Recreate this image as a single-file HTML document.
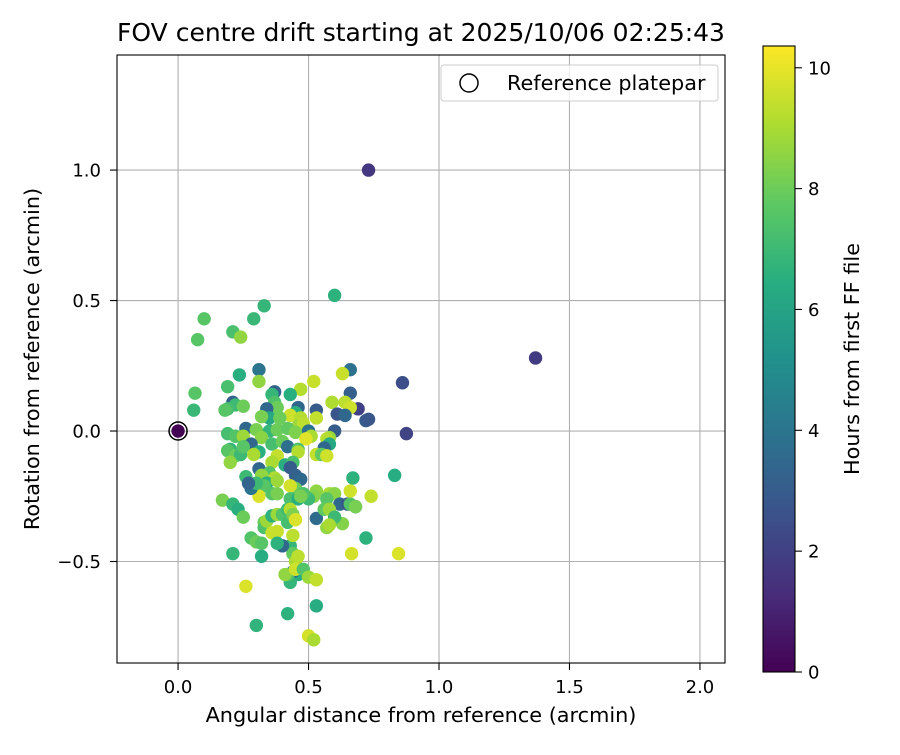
<!DOCTYPE html>
<html><head><meta charset="utf-8"><style>
body{margin:0;background:#fff;font-family:"Liberation Sans","DejaVu Sans",sans-serif}
svg text{font-family:"DejaVu Sans","Liberation Sans",sans-serif}
</style></head><body>
<svg id="chart" width="900" height="750" xmlns="http://www.w3.org/2000/svg">
<defs><linearGradient id="vir" x1="0" y1="1" x2="0" y2="0">
<stop offset="0" stop-color="#440154"/><stop offset="0.125" stop-color="#472d7b"/><stop offset="0.25" stop-color="#3b528b"/><stop offset="0.375" stop-color="#2c728e"/><stop offset="0.5" stop-color="#21918c"/><stop offset="0.625" stop-color="#28ae80"/><stop offset="0.75" stop-color="#5ec962"/><stop offset="0.875" stop-color="#addc30"/><stop offset="1" stop-color="#fde725"/>
</linearGradient></defs>
<rect width="900" height="750" fill="#fff"/>
<g id="grid"></g><g id="pts"></g><g id="axes"></g>
</svg>
<script>
const xs=[0.73,1.37,0.60,0.33,0.10,0.29,0.21,0.075,0.24,0.065,0.06,0.235,0.31,0.19,0.66,0.63,0.86,0.69,0.72,0.73,0.875,0.52,0.47,0.37,0.36,0.43,0.31,0.66,0.64,0.59,0.66,0.53,0.61,0.64,0.21,0.22,0.25,0.19,0.18,0.37,0.38,0.34,0.35,0.32,0.46,0.45,0.43,0.47,0.39,0.53,0.46,0.48,0.26,0.30,0.35,0.38,0.42,0.45,0.50,0.51,0.49,0.60,0.58,0.57,0.58,0.56,0.19,0.22,0.25,0.32,0.28,0.36,0.40,0.42,0.46,0.46,0.20,0.19,0.22,0.24,0.20,0.25,0.31,0.29,0.38,0.41,0.44,0.43,0.36,0.31,0.35,0.32,0.37,0.26,0.34,0.38,0.45,0.47,0.53,0.55,0.57,0.58,0.60,0.62,0.65,0.68,0.66,0.67,0.66,0.74,0.83,0.72,0.845,0.665,0.63,0.68,0.53,0.52,0.50,0.45,0.43,0.48,0.53,0.57,0.56,0.58,0.60,0.57,0.58,0.17,0.21,0.23,0.25,0.21,0.26,0.30,0.42,0.28,0.30,0.32,0.32,0.29,0.31,0.33,0.31,0.36,0.38,0.33,0.33,0.34,0.36,0.36,0.38,0.38,0.40,0.42,0.42,0.43,0.44,0.43,0.46,0.47,0.43,0.44,0.45,0.44,0.45,0.46,0.46,0.44,0.43,0.42,0.41,0.40,0.45,0.48,0.50,0.53,0.53,0.50,0.52,0.38,0.28,0.30,0.27];
const ys=[1.00,0.28,0.52,0.48,0.43,0.43,0.38,0.35,0.36,0.145,0.08,0.215,0.235,0.17,0.235,0.22,0.185,0.085,0.04,0.045,-0.01,0.19,0.16,0.15,0.14,0.14,0.19,0.145,0.11,0.11,0.09,0.08,0.065,0.06,0.11,0.10,0.095,0.085,0.08,0.11,0.09,0.085,0.05,0.055,0.09,0.07,0.06,0.05,0.05,0.05,0.02,0.03,0.01,0.005,0.0,0.005,0.01,-0.005,0.0,-0.02,-0.03,0.0,-0.025,-0.03,-0.05,-0.065,-0.01,-0.02,-0.02,-0.025,-0.05,-0.05,-0.04,-0.06,-0.07,-0.08,-0.07,-0.075,-0.095,-0.09,-0.12,-0.06,-0.08,-0.09,-0.095,-0.13,-0.12,-0.14,-0.12,-0.145,-0.16,-0.17,-0.18,-0.175,-0.20,-0.19,-0.17,-0.185,-0.09,-0.09,-0.095,-0.24,-0.24,-0.28,-0.28,-0.29,-0.28,-0.18,-0.23,-0.25,-0.17,-0.41,-0.47,-0.47,-0.355,-0.29,-0.23,-0.25,-0.26,-0.22,-0.21,-0.24,-0.335,-0.26,-0.30,-0.30,-0.33,-0.37,-0.36,-0.265,-0.28,-0.30,-0.33,-0.47,-0.595,-0.745,-0.70,-0.41,-0.425,-0.43,-0.48,-0.22,-0.21,-0.21,-0.25,-0.24,-0.24,-0.35,-0.37,-0.345,-0.39,-0.325,-0.32,-0.385,-0.32,-0.30,-0.35,-0.44,-0.40,-0.26,-0.26,-0.25,-0.30,-0.32,-0.34,-0.47,-0.50,-0.48,-0.55,-0.54,-0.58,-0.55,-0.55,-0.44,-0.53,-0.53,-0.56,-0.57,-0.67,-0.785,-0.80,-0.43,-0.22,-0.2,-0.20];
const hours=[1.6,1.8,6.6,6.8,7.6,6.9,7.3,7.6,8.6,7.6,6.9,6.5,4.0,7.3,3.9,9.5,2.5,2.0,3.0,2.8,2.1,9.5,9.2,3.2,6.8,6.5,8.6,3.1,9.3,9.1,9.6,3.0,2.7,3.5,3.2,7.0,8.0,7.2,7.6,7.4,8.0,3.5,6.2,8.2,3.5,6.5,9.6,9.2,8.0,9.4,8.8,9.3,3.5,8.2,6.8,8.0,7.8,8.3,3.9,9.0,9.9,3.0,8.7,9.2,6.2,3.5,7.2,7.5,8.8,8.5,3.4,7.2,8.0,3.8,7.4,9.2,6.8,7.6,8.0,7.0,8.6,7.6,6.5,9.0,9.4,6.5,7.3,3.0,9.0,3.5,7.5,8.6,9.1,7.0,6.5,8.8,3.2,3.5,9.4,7.8,9.6,9.0,8.5,3.5,2.8,3.3,7.5,6.6,9.6,9.4,6.4,6.6,9.8,9.7,8.4,8.2,8.6,8.4,7.0,8.0,9.7,7.4,3.6,7.6,7.8,8.8,7.0,8.6,9.0,8.2,6.8,6.5,8.0,6.8,9.8,6.7,6.6,7.5,8.0,7.6,6.4,6.2,6.9,7.6,9.8,7.5,8.2,8.0,7.4,8.8,9.5,6.6,8.8,9.5,7.5,7.0,7.2,6.8,9.3,7.3,6.5,8.2,9.2,8.3,9.8,7.8,9.0,9.3,6.4,4.0,6.8,7.6,8.6,3.5,9.6,7.5,8.8,9.4,6.4,9.7,9.0,6.6,4.0,7.0,3.3];
const xTicks=[0.0,0.5,1.0,1.5,2.0];
const yTicks=[-0.5,0.0,0.5,1.0];
const cTicks=[0,2,4,6,8,10];
const NS="http://www.w3.org/2000/svg";
const L=117,R=725,T=55,B=663;
const X0=-0.234,X1=2.096,Y0=-0.889,Y1=1.441,HMAX=10.36;
const sx=v=>L+(v-X0)/(X1-X0)*(R-L);
const sy=v=>B-(v-Y0)/(Y1-Y0)*(B-T);
const CT=46,CB=672,CL=763,CR=795;
const sc=h=>CB-h/HMAX*(CB-CT);
const stops=[[68,1,84],[71,45,123],[59,82,139],[44,114,142],[33,145,140],[40,174,128],[94,201,98],[173,220,48],[253,231,37]];
function vir(h){let t=Math.max(0,Math.min(1,h/HMAX))*8;let i=Math.min(7,Math.floor(t)),f=t-i;const a=stops[i],b=stops[i+1];return `rgb(${a.map((v,k)=>Math.round(v+(b[k]-v)*f)).join(',')})`;}
function el(tag,attrs,parent,txt){const e=document.createElementNS(NS,tag);for(const k in attrs)e.setAttribute(k,attrs[k]);if(txt!==undefined)e.textContent=txt;parent.appendChild(e);return e;}
const grid=document.getElementById('grid'),pts=document.getElementById('pts'),ax=document.getElementById('axes');
xTicks.forEach(v=>{const g=el('line',{x1:sx(v),x2:sx(v),y1:T,y2:B,stroke:'#b0b0b0','stroke-width':1.1},grid);


el('line',{x1:sx(v),x2:sx(v),y1:B,y2:B+7,stroke:'#000','stroke-width':1.1},ax);
const l=el('text',{x:sx(v),y:693,'text-anchor':'middle','font-size':18},ax,v.toFixed(1));

});
yTicks.forEach(v=>{const g=el('line',{x1:L,x2:R,y1:sy(v),y2:sy(v),stroke:'#b0b0b0','stroke-width':1.1},grid);


el('line',{x1:L-7,x2:L,y1:sy(v),y2:sy(v),stroke:'#000','stroke-width':1.1},ax);
const l=el('text',{x:L-16,y:sy(v)+6.5,'text-anchor':'end','font-size':18},ax,(v<0?'\u2212':'')+Math.abs(v).toFixed(1));

});
xs.forEach((x,i)=>{const c=el('circle',{cx:sx(x),cy:sy(ys[i]),r:6.7,fill:vir(hours[i])},pts);

});
const rp=el('circle',{cx:sx(0),cy:sy(0),r:6.7,fill:vir(0)},pts);


const rm=el('circle',{cx:sx(0),cy:sy(0),r:9,fill:'none',stroke:'#000','stroke-width':1.5},pts);


const fr=el('rect',{x:L,y:T,width:R-L,height:B-T,fill:'none',stroke:'#000','stroke-width':1.1},ax);


const ti=el('text',{x:(L+R)/2,y:41,'text-anchor':'middle','font-size':25},ax,'FOV centre drift starting at 2025/10/06 02:25:43');


const xl=el('text',{x:(L+R)/2,y:722,'text-anchor':'middle','font-size':20.8},ax,'Angular distance from reference (arcmin)');


const yl=el('text',{x:0,y:0,'text-anchor':'middle','font-size':20.8,transform:`translate(39,${(T+B)/2}) rotate(-90)`},ax,'Rotation from reference (arcmin)');


const lg=el('g',{},ax);


el('rect',{x:441,y:65,width:277,height:36,rx:3,fill:'#fff','fill-opacity':0.8,stroke:'#ccc'},lg);
el('circle',{cx:469,cy:83,r:9,fill:'none',stroke:'#000','stroke-width':1.5},lg);
el('text',{x:507,y:90,'font-size':20.8},lg,'Reference platepar');
const cb=el('rect',{x:CL,y:CT,width:CR-CL,height:CB-CT,fill:'url(#vir)',stroke:'#000','stroke-width':1.1},ax);


cTicks.forEach(v=>{el('line',{x1:CR,x2:CR+7,y1:sc(v),y2:sc(v),stroke:'#000','stroke-width':1.1},ax);
const l=el('text',{x:CR+13,y:sc(v)+6.5,'font-size':18},ax,String(v));

});
const cl=el('text',{x:0,y:0,'text-anchor':'middle','font-size':20.8,transform:`translate(859,${(CT+CB)/2}) rotate(-90)`},ax,'Hours from first FF file');


</script>
</body></html>
